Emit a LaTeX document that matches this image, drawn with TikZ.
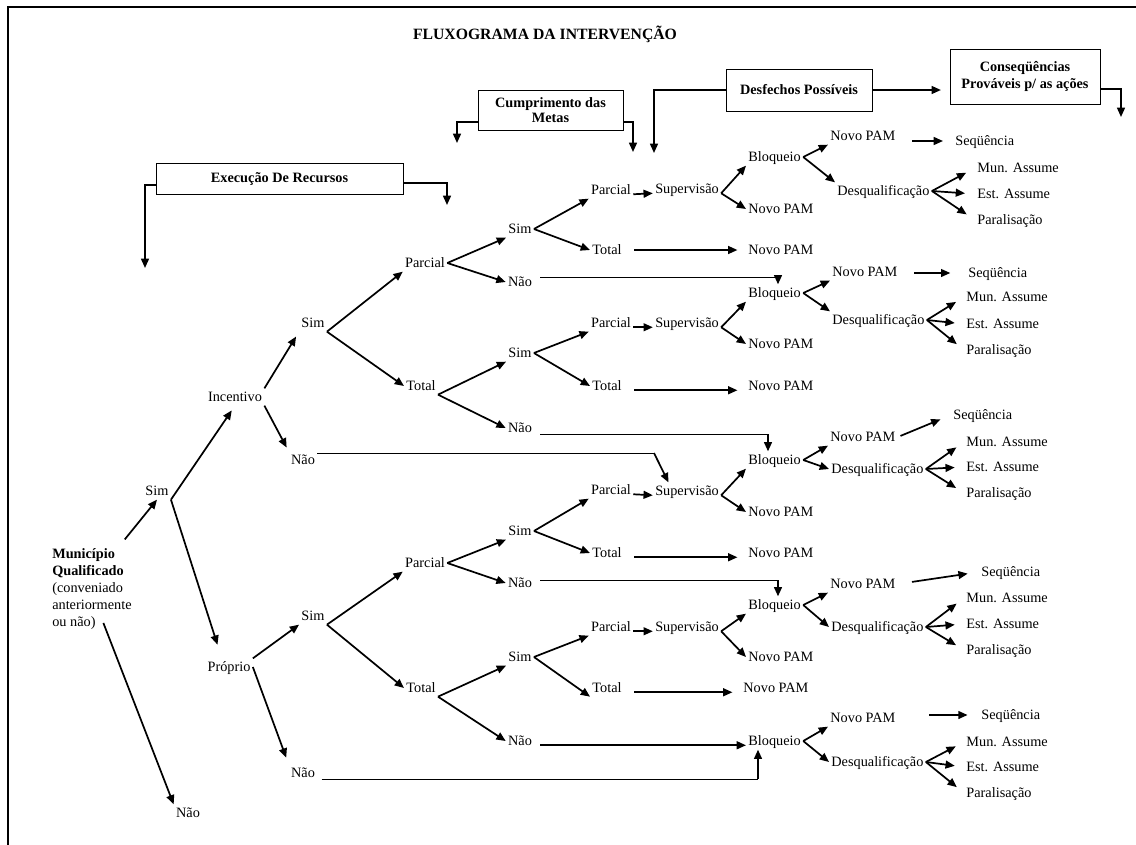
\documentclass[tikz,border=0pt]{standalone}
\usepackage{fontspec}
\setmainfont{Liberation Serif}
\usetikzlibrary{positioning, calc, arrows.meta}

\tikzset{
  lbl/.style={inner sep=1.5pt, text height=1.6ex, text depth=.3ex},
  lw/.style={lbl, anchor=west},
  hdr/.style={draw, line width=.7pt, font=\bfseries, align=center, inner sep=2pt},
  arr/.style={line width=1.2pt, -{Triangle[length=6.5pt,width=5.5pt]}},
  longarr/.style={arr, shorten <=7pt, shorten >=6pt},
  thinln/.style={line width=.7pt},
}

\begin{document}
\begin{tikzpicture}[x=0.7pt, y=-0.7pt]
			\useasboundingbox (0,0) rectangle (1136,845);
			\draw[line width=1.4pt] (8,845) -- (8,7) -- (1136,7);
			\node[font=\bfseries\fontsize{11}{13}\selectfont] (title) at (545,34) {FLUXOGRAMA DA INTERVENÇÃO};

			% column headers
			\node[hdr, minimum width=172.9pt, minimum height=21.7pt] (exec) at (279.5,178.5) {Execução De Recursos};
			\node[hdr, minimum width=101.5pt, minimum height=28pt] (cump) at (550.5,110) {Cumprimento das\\[-2pt]Metas};
			\node[hdr, minimum width=102.2pt, minimum height=29.4pt] (desf) at (799,90) {Desfechos Possíveis};
			\node[hdr, minimum width=105pt, minimum height=38.5pt] (cons) at (1025,76.5) {Conseqüências\\Prováveis p/ as ações};
			\coordinate (execL) at (145,268);
			\coordinate (execR) at (447,205);
			\coordinate (cumpL) at (457,143);
			\coordinate (cumpR) at (633,152);
			\coordinate (desfL) at (654,153);
			\coordinate (consR) at (1121,117);
			\draw[arr] ([yshift=-4.5pt]exec.west) -| (execL);
			\draw[arr] ([yshift=-3pt]exec.east) -| (execR);
			\draw[arr] ([yshift=-8.4pt]cump.west) -| (cumpL);
			\draw[arr] ([yshift=-8.4pt]cump.east) -| (cumpR);
			\draw[arr] (desf.west) -| (desfL);
			\draw[arr, shorten >=6pt] (desf.east) -- (desf.east -| cons.west);
			\draw[arr] ([yshift=-8.75pt]cons.east) -| (consR);

			% first levels
			\node[anchor=north west, align=left, inner sep=0] (root) at (52,548) {\textbf{Município}\\\textbf{Qualificado}\\(conveniado\\anteriormente\\ou não)};
			\node[lbl] (sim1) at (157,491) {Sim};
			\node[lbl] (naoR) at (188,813) {Não};
			\node[lbl] (inc) at (235,397) {Incentivo};
			\node[lbl] (prop) at (229,667) {Próprio};
			\node[lbl] (sim2) at (313,323) {Sim};
			\node[lbl] (naoI) at (303,460) {Não};
			\node[lbl] (sim4) at (313,616) {Sim};
			\node[lbl] (naoP) at (303,773) {Não};
			\node[lbl] (parc2) at (425,263) {Parcial};
			\node[lbl] (tot2) at (421,386) {Total};
			\node[lbl] (parc4) at (425,563) {Parcial};
			\node[lbl] (tot4) at (421,688) {Total};
			\node[lbl] (simA) at (520,229) {Sim};
			\node[lbl] (naoA) at (520,282) {Não};
			\node[lbl] (simB) at (520,353) {Sim};
			\node[lbl] (naoB) at (520,428) {Não};
			\node[lbl] (simC) at (520,531) {Sim};
			\node[lbl] (naoC) at (520,583) {Não};
			\node[lbl] (simD) at (520,657) {Sim};
			\node[lbl] (naoD) at (520,741) {Não};

			% goals
			\node[lbl] (parcA) at (611,190) {Parcial};
			\node[lbl] (totA) at (607,250) {Total};
			\node[lbl] (supA) at (687,189) {Supervisão};
			\node[lbl] (parcB) at (611,323) {Parcial};
			\node[lbl] (totB) at (607,386) {Total};
			\node[lbl] (supB) at (687,323) {Supervisão};
			\node[lbl] (parcC) at (611,490) {Parcial};
			\node[lbl] (totC) at (607,553) {Total};
			\node[lbl] (supC) at (687,491) {Supervisão};
			\node[lbl] (parcD) at (611,627) {Parcial};
			\node[lbl] (totD) at (607,688) {Total};
			\node[lbl] (supD) at (687,627) {Supervisão};
			\node[lw] (novSA) at (746,209) {Novo PAM};
			\node[lw] (novTA) at (746,250) {Novo PAM};
			\node[lw] (novSB) at (746,344) {Novo PAM};
			\node[lw] (novTB) at (746,386) {Novo PAM};
			\node[lw] (novSC) at (746,512) {Novo PAM};
			\node[lw] (novTC) at (746,553) {Novo PAM};
			\node[lw] (novSD) at (746,657) {Novo PAM};
			\node[lw] (novTD) at (741,688) {Novo PAM};

			% outcomes
			\node[lw] (bloq1) at (746,157) {Bloqueio};
			\node[lw] (bloq2) at (746,293) {Bloqueio};
			\node[lw] (bloq3) at (746,460) {Bloqueio};
			\node[lw] (bloq4) at (746,605) {Bloqueio};
			\node[lw] (bloq5) at (746,741) {Bloqueio};
			\node[lw] (novo1) at (828,136) {Novo PAM};
			\node[lw] (novo2) at (830,272) {Novo PAM};
			\node[lw] (novo3) at (828,437) {Novo PAM};
			\node[lw] (novo4) at (828,584) {Novo PAM};
			\node[lw] (novo5) at (828,718) {Novo PAM};
			\node[lw] (desq1) at (835,191) {Desqualificação};
			\node[lw] (desq2) at (830,320) {Desqualificação};
			\node[lw] (desq3) at (829,469) {Desqualificação};
			\node[lw] (desq4) at (829,627) {Desqualificação};
			\node[lw] (desq5) at (829,762) {Desqualificação};

			% consequences
			\node[lw] (seq1) at (953,141) {Seqüência};
			\node[lw] (seq2) at (966,273) {Seqüência};
			\node[lw] (seq3) at (951,415) {Seqüência};
			\node[lw] (seq4) at (979,572) {Seqüência};
			\node[lw] (seq5) at (979,715) {Seqüência};
			\node[lw] (mun1) at (975,168) {Mun. Assume};
			\node[lw] (est1) at (975,194) {Est. Assume};
			\node[lw] (par1) at (975,220) {Paralisação};
			\node[lw] (mun2) at (964,297) {Mun. Assume};
			\node[lw] (est2) at (964,324) {Est. Assume};
			\node[lw] (par2) at (964,350) {Paralisação};
			\node[lw] (mun3) at (964,442) {Mun. Assume};
			\node[lw] (est3) at (964,467) {Est. Assume};
			\node[lw] (par3) at (964,493) {Paralisação};
			\node[lw] (mun4) at (964,598) {Mun. Assume};
			\node[lw] (est4) at (964,624) {Est. Assume};
			\node[lw] (par4) at (964,650) {Paralisação};
			\node[lw] (mun5) at (964,742) {Mun. Assume};
			\node[lw] (est5) at (964,767) {Est. Assume};
			\node[lw] (par5) at (964,793) {Paralisação};

			% tree connectors
			\draw[arr] ([xshift=-5pt,yshift=6pt]root.north east) -- (sim1.south);
			\draw[arr] ([xshift=8pt,yshift=5pt]root.south) -- (naoR.north west);
			\draw[arr, shorten >=4pt] (sim1.south east) -- (inc.south);
			\draw[arr, shorten >=10pt] (sim1.south east) -- ([xshift=-5pt]prop.north);
			\draw[arr, shorten >=4pt] (inc.north east) -- (sim2.south west);
			\draw[arr, shorten >=3pt] (inc.south east) -- (naoI.north west);
			\draw[arr] (prop.north east) -- (sim4.south west);
			\draw[arr, shorten >=5pt] (prop.east) -- (naoP.north west);
			\draw[arr] (sim2.south east) -- (parc2.south west);
			\draw[arr] (sim2.south east) -- (tot2.west);
			\draw[arr] (sim4.south east) -- (parc4.south west);
			\draw[arr] (sim4.south east) -- (tot4.west);
			\draw[arr] (parc2.east) -- (simA.south west);
			\draw[arr] (parc2.east) -- (naoA.west);
			\draw[arr] (tot2.south east) -- (simB.south west);
			\draw[arr] (tot2.south east) -- (naoB.west);
			\draw[arr] (parc4.east) -- (simC.south west);
			\draw[arr] (parc4.east) -- (naoC.west);
			\draw[arr] (tot4.south east) -- (simD.south west);
			\draw[arr] (tot4.south east) -- (naoD.west);

			\draw[arr] (simA.east) -- (parcA.south west);
			\draw[arr] (simA.east) -- (totA.west);
			\draw[arr] (simB.east) -- (parcB.south west);
			\draw[arr] (simB.east) -- (totB.west);
			\draw[arr] (simC.east) -- (parcC.south west);
			\draw[arr] (simC.east) -- (totC.west);
			\draw[arr] (simD.east) -- (parcD.south west);
			\draw[arr] (simD.east) -- (totD.south west);
			\draw[arr] (parcA.base east) -- (supA.base west);
			\draw[arr] (parcB.base east) -- (supB.base west);
			\draw[arr] (parcC.base east) -- (supC.base west);
			\draw[arr] (parcD.base east) -- (supD.base west);
			\draw[longarr] (totA.east) -- (novTA.west);
			\draw[longarr] (totB.base east) -- (novTB.base west);
			\draw[longarr] (totC.base east) -- (novTC.base west);
			\draw[longarr] (totD.base east) -- (novTD.base west);
			\draw[arr] (supA.base east) -- (bloq1.south west);
			\draw[arr] (supA.base east) -- (novSA.west);
			\draw[arr] (supB.base east) -- (bloq2.south west);
			\draw[arr] (supB.base east) -- (novSB.west);
			\draw[arr] (supC.base east) -- (bloq3.south west);
			\draw[arr] (supC.base east) -- (novSC.west);
			\draw[arr] (supD.base east) -- (bloq4.south west);
			\draw[arr] (supD.base east) -- (novSD.west);

			% "Nao" branches running to the outcomes
			\coordinate (kA) at (778,277);
			\coordinate (kB) at (768,434);
			\coordinate (kC) at (778,580);
			\coordinate (kI) at (654,453);
			\coordinate (kP) at (758,779);
			\draw[thinln, shorten <=4pt] (naoA.east |- kA) -- (kA);
			\draw[arr] (kA) -- (kA |- bloq2.north);
			\draw[thinln, shorten <=4pt] (naoB.east |- kB) -- (kB);
			\draw[arr] (kB) -- (kB |- bloq3.north);
			\draw[thinln, shorten <=4pt] (naoC.east |- kC) -- (kC);
			\draw[arr] (kC) -- (kC |- bloq4.north);
			\draw[thinln] (naoI.east |- kI) -- (kI);
			\draw[arr] (kI) -- (supC.155);
			\draw[thinln, shorten <=3pt] (naoP.east |- kP) -- (kP);
			\draw[arr] (kP) -- (kP |- bloq5.south);
			\draw[arr, shorten <=4pt] (naoD.base east) -- (bloq5.base west);

			% outcome connectors
			\draw[arr] (bloq1.east) -- (novo1.south west);
			\draw[arr] (bloq1.east) -- (desq1.north west);
			\draw[arr] (bloq2.east) -- (novo2.south west);
			\draw[arr] (bloq2.east) -- (desq2.north west);
			\draw[arr] (bloq3.east) -- (novo3.south west);
			\draw[arr] (bloq3.east) -- (desq3.west);
			\draw[arr] (bloq4.east) -- (novo4.south west);
			\draw[arr] (bloq4.east) -- (desq4.west);
			\draw[arr] (bloq5.east) -- (novo5.south west);
			\draw[arr] (bloq5.east) -- (desq5.west);
			\draw[arr, shorten <=10pt, shorten >=7pt] (seq1.west -| novo1.east) -- (seq1.west);
			\draw[arr, shorten <=10pt, shorten >=11pt] (seq2.west -| novo2.east) -- (seq2.west);
			\draw[arr, shorten <=2pt, shorten >=8pt] (novo3.east) -- (seq3.west);
			\draw[arr, shorten <=10pt, shorten >=8pt] (novo4.east) -- (seq4.west);
			\draw[arr, shorten <=22pt, shorten >=8pt] (seq5.west -| novo5.east) -- (seq5.west);
			\draw[arr, shorten >=7pt] (desq1.east) -- (mun1.west);
			\draw[arr, shorten >=7pt] (desq1.east) -- (est1.west);
			\draw[arr, shorten >=7pt] (desq1.east) -- (par1.west);
			\draw[arr, shorten >=6.5pt] (desq2.east) -- (mun2.west);
			\draw[arr, shorten >=6.5pt] (desq2.east) -- (est2.west);
			\draw[arr, shorten >=6.5pt] (desq2.east) -- (par2.west);
			\draw[arr, shorten >=6.5pt] (desq3.east) -- (mun3.west);
			\draw[arr, shorten >=6.5pt] (desq3.east) -- (est3.west);
			\draw[arr, shorten >=6.5pt] (desq3.east) -- (par3.west);
			\draw[arr, shorten >=6.5pt] (desq4.east) -- (mun4.west);
			\draw[arr, shorten >=6.5pt] (desq4.east) -- (est4.west);
			\draw[arr, shorten >=6.5pt] (desq4.east) -- (par4.west);
			\draw[arr, shorten >=6.5pt] (desq5.east) -- (mun5.west);
			\draw[arr, shorten >=6.5pt] (desq5.east) -- (est5.west);
			\draw[arr, shorten >=6.5pt] (desq5.east) -- (par5.west);
		\end{tikzpicture}
\end{document}
